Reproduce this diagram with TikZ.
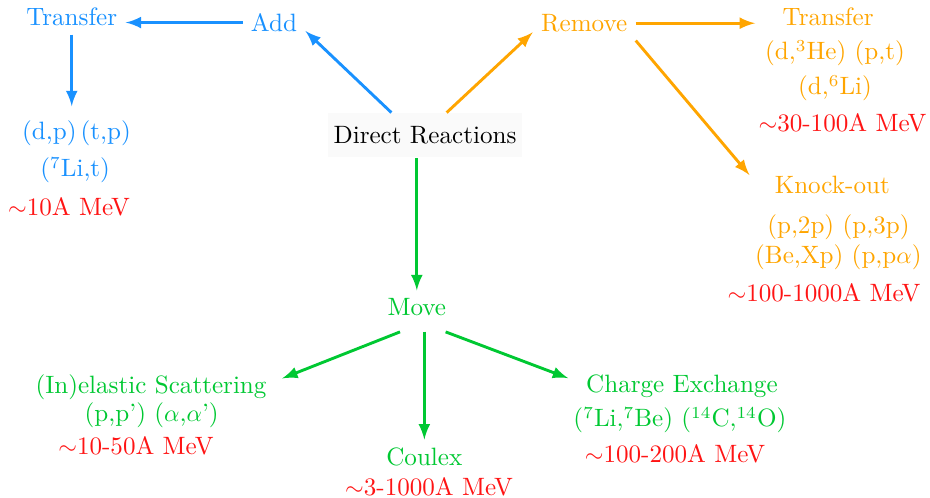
\documentclass[tikz,border=0pt]{standalone}
\usepackage{amsmath}
\usepackage{amssymb}
\usepackage{tikz}
\usetikzlibrary{calc}

\definecolor{addblue}{RGB}{25,145,255}
\definecolor{remorange}{RGB}{255,165,0}
\definecolor{movegreen}{RGB}{0,200,50}
\definecolor{energyred}{RGB}{255,20,20}

\begin{document}
\begin{tikzpicture}[
    every node/.style={font=\fontsize{10.45}{12.5}\selectfont},
    blueline/.style={-latex, line width=1.2pt, addblue},
    orangeline/.style={-latex, line width=1.2pt, remorange},
    greenline/.style={-latex, line width=1.2pt, movegreen},
    energy/.style={text=energyred}]
    \useasboundingbox (-6.22,1.98) rectangle (7.39,-5.30);
    % Centre
    \node[fill=black!2, inner sep=2.5pt, minimum height=0.65cm] (direct) at (0,0) {Direct Reactions};
    % Add
    \node[addblue] (add) at (-2.21,1.65) {Add};
    \node[addblue] (transL) at (-5.17,1.73) {Transfer};
    \node[addblue] (dpL) at (-5.10,0.03) {(d,p)\,(t,p)};
    \node[addblue] (liL) at (-5.12,-0.51) {($^7$Li,t)};
    \node[energy] (enL) at (-5.21,-1.05) {$\sim$10A MeV};
    \draw[blueline] ([xshift=-14pt]direct.north) -- (add.-15);
    \draw[blueline] (add.west) -- (add.west -| transL.east);
    \draw[blueline, shorten >=2.5pt] (transL.south) -- (transL.south |- dpL.north);
    % Remove
    \node[remorange] (remove) at (2.33,1.64) {Remove};
    \node[remorange] (transR) at (5.90,1.73) {Transfer};
    \node[remorange] (dheR) at (6.00,1.20) {(d,$^3$He) (p,t)};
    \node[remorange] (dliR) at (6.00,0.69) {(d,$^6$Li)};
    \node[energy] (enR) at (6.11,0.19) {$\sim$30-100A MeV};
    \node[remorange] (knock) at (5.96,-0.73) {Knock-out};
    \node[remorange] (p2p) at (6.05,-1.35) {(p,2p) (p,3p)};
    \node[remorange] (bexp) at (6.05,-1.79) {(Be,Xp) (p,p$\alpha$)};
    \node[energy] (enK) at (5.84,-2.31) {$\sim$100-1000A MeV};
    \draw[orangeline] ([xshift=9pt]direct.north) -- (remove.190);
    \draw[orangeline] (remove.east) -- ($(remove.east -| transR.west)+(-0.28,0)$);
    \draw[orangeline] (remove.south east) -- ([xshift=-7pt,yshift=-3pt]knock.north west);
    % Move
    \node[movegreen] (move) at (-0.12,-2.52) {Move};
    \node[movegreen] (inel) at (-4.01,-3.69) {(In)elastic Scattering};
    \node[movegreen] (ppp) at (-4.00,-4.10) {(p,p') ($\alpha$,$\alpha$')};
    \node[energy] (enI) at (-4.23,-4.55) {$\sim$10-50A MeV};
    \node[movegreen] (coulex) at (-0.01,-4.71) {Coulex};
    \node[energy] (enC) at (0.06,-5.15) {$\sim$3-1000A MeV};
    \node[movegreen] (charge) at (3.76,-3.67) {Charge Exchange};
    \node[movegreen] (li7) at (3.73,-4.17) {($^7$Li,$^7$Be) ($^{14}$C,$^{14}$O)};
    \node[energy] (enX) at (3.66,-4.66) {$\sim$100-200A MeV};
    \draw[greenline] (direct.south -| move.north) -- (move.north);
    \draw[greenline] ([xshift=-7pt,yshift=-3pt]move.south) -- ([xshift=3pt,yshift=-5pt]inel.north east);
    \draw[greenline] ($(move.south -| coulex.north)+(0,-0.1)$) -- (coulex.north);
    \draw[greenline] ([xshift=12pt,yshift=-3pt]move.south) -- ([xshift=-4pt,yshift=-5pt]charge.north west);
\end{tikzpicture}
\end{document}
